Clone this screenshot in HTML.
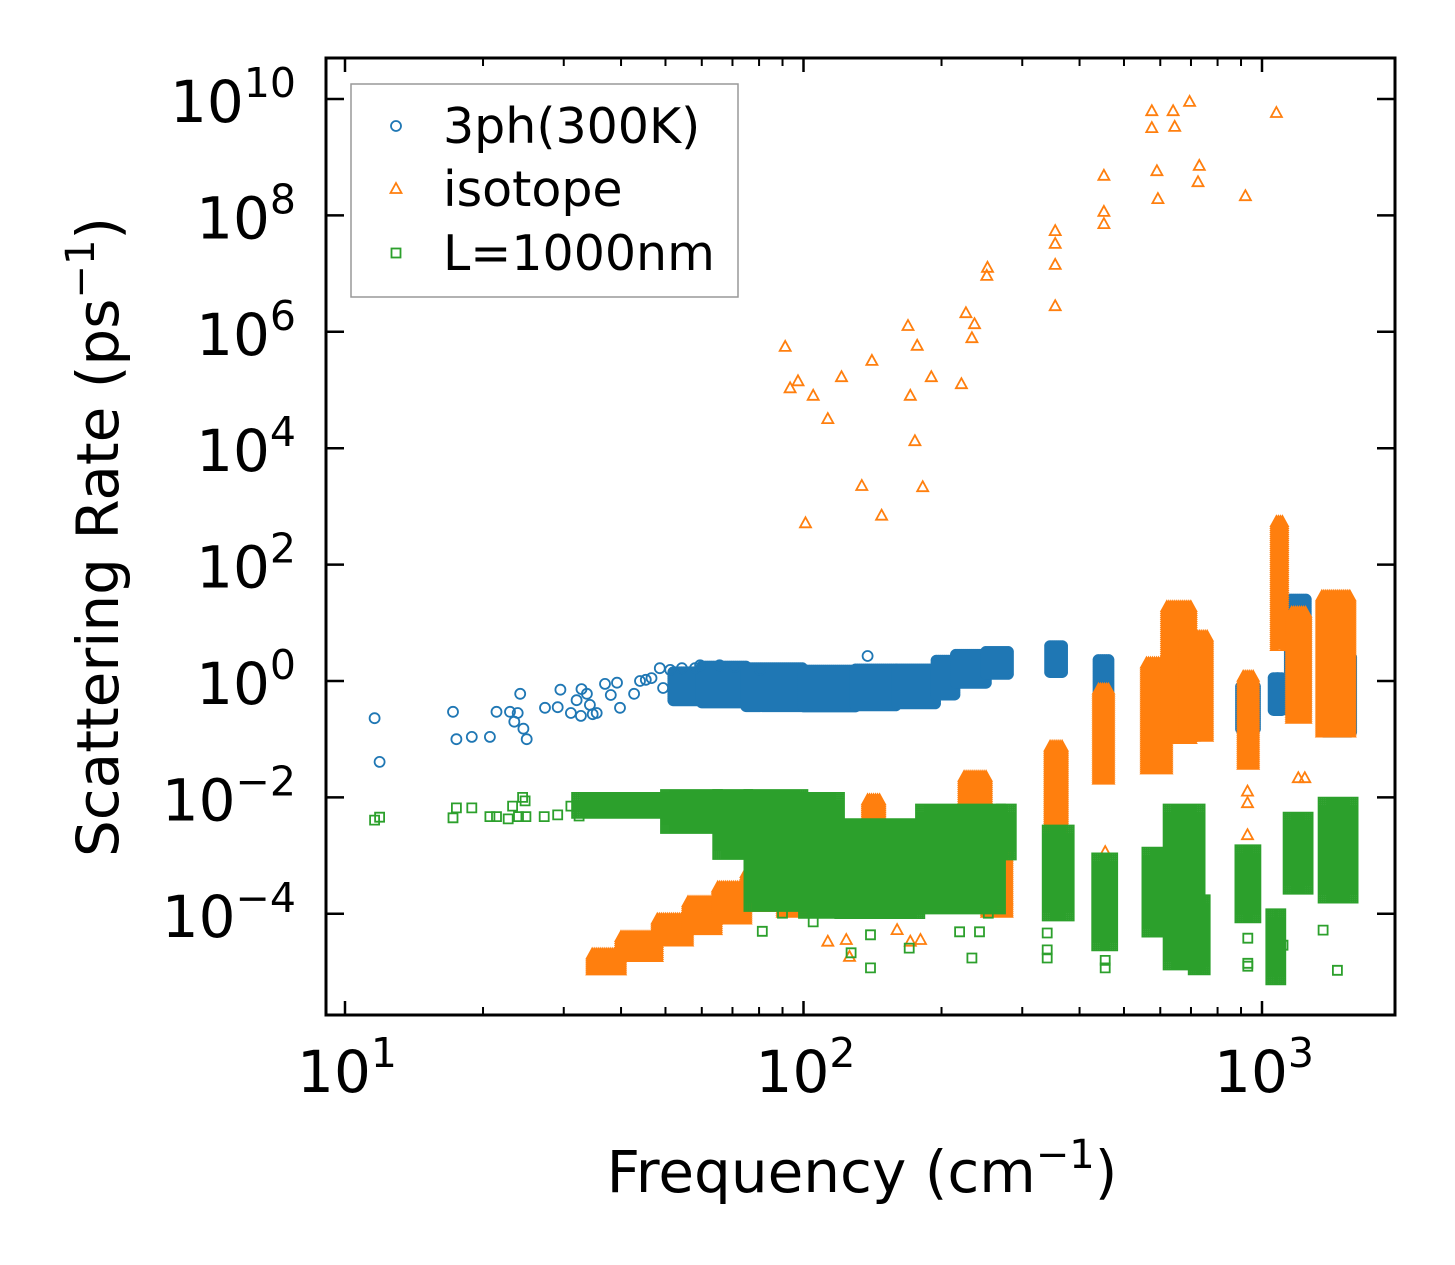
<!DOCTYPE html>
<html><head><meta charset="utf-8"><style>
html,body{margin:0;padding:0;background:#fff}
svg{display:block;font-family:"DejaVu Sans","Liberation Sans",sans-serif}
</style></head><body>
<svg id="chart" width="1455" height="1265" viewBox="0 0 1455 1265" xmlns="http://www.w3.org/2000/svg">
<rect width="1455" height="1265" fill="#fff"/>
<g id="marks"></g>
<g id="axes"></g>
<text x="862" y="1192" font-size="58" text-anchor="middle">Frequency (cm<tspan dy="-24" font-size="40">−1</tspan><tspan dy="24">)</tspan></text>
<text transform="translate(118,537) rotate(-90)" font-size="58" text-anchor="middle">Scattering Rate (ps<tspan dy="-24" font-size="40">−1</tspan><tspan dy="24">)</tspan></text>
<g>
<rect x="351" y="84" width="387" height="213" fill="#fff" stroke="#999" stroke-width="1.5"/>
<g><circle cx="396" cy="126" r="5" fill="none" stroke="#1f77b4" stroke-width="1.8"/><text x="443" y="143" font-size="49">3ph(300K)</text></g>
<g><path d="M396 183 L401.5 193 L390.5 193 Z" fill="none" stroke="#ff7f0e" stroke-width="1.8"/><text x="443" y="206" font-size="49">isotope</text></g>
<g><rect x="391.5" y="248.5" width="9" height="9" fill="none" stroke="#2ca02c" stroke-width="1.8"/><text x="443" y="270" font-size="49">L=1000nm</text></g>
</g>
</svg>
<script>
// axis tick values
const xTickExps = [1, 2, 3];
const yTickExps = [10, 8, 6, 4, 2, 0, -2, -4];
// 3ph (300K) scattered points: frequency, log10(rate)
const blueF = [11.6,11.9,17.2,17.5,18.9,20.7,21.4,22.9,23.4,23.8,24.1,24.5,24.9,27.3,29.1,29.5,31.1,32.0,32.7,32.8,33.7,34.2,34.7,35.4,36.9,38.0,39.2,39.8,42.7,44.0,45.3,46.6,48.6,49.4,51.2,54.3,58.0,59.5,65.6,70.8,80.4,138];
const blueR = [-0.64,-1.39,-0.53,-1.0,-0.96,-0.96,-0.53,-0.53,-0.70,-0.55,-0.22,-0.82,-1.0,-0.46,-0.45,-0.15,-0.55,-0.33,-0.60,-0.14,-0.22,-0.41,-0.57,-0.55,-0.05,-0.24,-0.03,-0.46,-0.22,0,0.02,0.05,0.22,-0.12,0.19,0.22,0.22,0.27,0.27,0.24,0.19,0.43];
// 3ph dense clusters: [f0, f1, logLo, logHi]
const blueClusters = [[52,60,-0.35,0.15],[60,75,-0.4,0.25],[75,100,-0.45,0.22],[100,130,-0.45,0.18],[130,160,-0.45,0.2],[160,195,-0.4,0.2],[195,215,-0.25,0.35],[215,250,-0.05,0.45],[250,280,0.1,0.5],[345,370,0.15,0.6],[440,465,-0.2,0.36],[560,740,-0.95,-0.15],[900,970,-0.85,-0.1],[1060,1110,-0.5,0.05],[1150,1250,-0.55,1.4],[1360,1580,-0.9,0.4]];
// isotope scattered points
const orangeF = [91.2,93.5,97.3,101,105,113,121,134,141,148,169,171,177,175,182,190,221,226,233,236,251,252,354,354,354,354,452,452,452,575,575,590,593,640,645,695,725,730,920,1075,113,124,126,160,171,180,277,277,455,656,930,930,930,1200,1240];
const orangeR = [5.74,5.03,5.15,2.71,4.9,4.5,5.22,3.35,5.5,2.84,6.1,4.9,5.76,4.12,3.33,5.22,5.1,6.32,5.89,6.13,6.96,7.1,6.44,7.73,7.51,7.15,7.85,8.06,8.68,9.79,9.5,8.76,8.28,9.79,9.52,9.95,8.57,8.85,8.33,9.76,-4.48,-4.45,-4.74,-4.28,-4.48,-4.45,-3.97,-3.76,-2.94,-2.4,-1.9,-2.1,-2.65,-1.67,-1.67];
// isotope dense clusters
const orangeClusters = [[34.6,40,-4.98,-4.7],[40,48,-4.75,-4.4],[48,56,-4.5,-4.1],[56,65,-4.3,-3.8],[65,75,-4.1,-3.55],[75,90,-3.9,-3.3],[90,140,-4.0,-3.4],[138,148,-2.5,-2.05],[224,251,-3.4,-1.65],[251,280,-4.0,-2.85],[345,370,-2.56,-1.13],[440,465,-1.7,-0.15],[560,620,-1.53,0.3],[620,700,-1.0,1.27],[680,760,-0.96,0.76],[910,960,-1.47,0.07],[1075,1110,0.57,2.73],[1160,1250,-0.67,1.17],[1350,1560,-0.9,1.45]];
// L=1000nm scattered points
const greenF = [11.6,11.9,17.2,17.5,18.9,20.7,21.4,22.7,23.2,23.9,24.4,24.7,24.8,27.2,29.1,31.1,32.4,34.9,81.3,90.0,105,140,127,140,170,219,233,242,253,279,340,340,340,455,455,931,931,931,1111,1359,1460];
const greenR = [-2.39,-2.34,-2.35,-2.18,-2.18,-2.33,-2.33,-2.37,-2.15,-2.33,-2.0,-2.06,-2.33,-2.33,-2.3,-2.15,-2.32,-2.06,-4.3,-3.99,-4.14,-4.93,-4.67,-4.36,-4.59,-4.31,-4.76,-4.31,-3.99,-2.94,-4.33,-4.62,-4.76,-4.8,-4.93,-4.42,-4.85,-4.9,-4.54,-4.28,-4.97];
// L=1000nm dense clusters
const greenClusters = [[32,50,-2.3,-2.0],[50,65,-2.55,-1.95],[65,76,-3.0,-1.95],[76,100,-3.9,-1.95],[100,120,-4.0,-2.0],[120,180,-4.0,-2.45],[180,270,-3.95,-2.2],[270,285,-3.0,-2.2],[340,381,-4.05,-2.56],[436,473,-4.57,-3.04],[561,621,-4.33,-2.94],[624,740,-4.9,-2.2],[708,759,-4.97,-3.76],[895,975,-4.1,-2.9],[1045,1105,-5.15,-4.0],[1140,1273,-3.6,-2.34],[1359,1580,-3.76,-2.08]];

const NS = 'http://www.w3.org/2000/svg';
const L = 326, R = 1395, T = 58, B = 1015;
function X(f){ return 345 + (Math.log10(f) - 1) * 458.5; }
function Y(e){ return 681 - e * 58.2; }
const shapes = {
  c: (x,y)=>`M${(x-5).toFixed(1)} ${y.toFixed(1)}a5 5 0 1 0 10 0a5 5 0 1 0 -10 0`,
  t: (x,y)=>`M${x.toFixed(1)} ${(y-6).toFixed(1)}L${(x+5.5).toFixed(1)} ${(y+4).toFixed(1)}L${(x-5.5).toFixed(1)} ${(y+4).toFixed(1)}Z`,
  s: (x,y)=>`M${(x-4.5).toFixed(1)} ${(y-4.5).toFixed(1)}h9v9h-9Z`
};
const marks = document.getElementById('marks');
function drawSeries(name, color, shape, F, Rr, clusters){
  const g = document.createElementNS(NS,'g');
  
  
  marks.appendChild(g);
  clusters.forEach((c, i) => {
    let d = '';
    const x0 = X(c[0]), x1 = X(c[1]), y0 = Y(c[3]), y1 = Y(c[2]);
    for (let x = x0; x <= x1 + 0.01; x += 2) {
      for (let y = y0; y <= y1 + 0.01; y += 2) d += shapes[shape](x, y);
    }
    const p = document.createElementNS(NS,'path');
    p.setAttribute('d', d);
    p.setAttribute('fill','none'); p.setAttribute('stroke', color); p.setAttribute('stroke-width','1.8');
    
    
    g.appendChild(p);
  });
  F.forEach((f, i) => {
    const p = document.createElementNS(NS,'path');
    p.setAttribute('d', shapes[shape](X(f), Y(Rr[i])));
    p.setAttribute('fill','none'); p.setAttribute('stroke', color); p.setAttribute('stroke-width','1.8');
    
    
    g.appendChild(p);
  });
}
drawSeries('series-3ph', '#1f77b4', 'c', blueF, blueR, blueClusters);
drawSeries('series-isotope', '#ff7f0e', 't', orangeF, orangeR, orangeClusters);
drawSeries('series-boundary', '#2ca02c', 's', greenF, greenR, greenClusters);

const axes = document.getElementById('axes');
function line(x1,y1,x2,y2,w,name){
  const l = document.createElementNS(NS,'line');
  l.setAttribute('x1',x1); l.setAttribute('y1',y1); l.setAttribute('x2',x2); l.setAttribute('y2',y2);
  l.setAttribute('stroke','#000'); l.setAttribute('stroke-width',w);
  
  
  axes.appendChild(l);
}
function label(x,y,exp,anchor,name){
  const t = document.createElementNS(NS,'text');
  t.setAttribute('x',x); t.setAttribute('y',y); t.setAttribute('font-size','58');
  t.setAttribute('text-anchor',anchor);
  
  
  t.innerHTML = '10<tspan dy="-25" font-size="41">' + String(exp).replace('-','−') + '</tspan>';
  axes.appendChild(t);
}
xTickExps.forEach(e => {
  const x = X(Math.pow(10,e));
  line(x,B,x,B-14,2.5,'x-major-tick'); line(x,T,x,T+14,2.5,'x-major-tick-top');
  label(x+2,1092,e,'middle','x-tick-label');
});
for (let d = 0; d <= 3; d++) for (let m = 2; m <= 9; m++) {
  const f = m * Math.pow(10,d);
  const x = X(f);
  if (x < L || x > R) continue;
  line(x,B,x,B-8,2,'x-minor-tick'); line(x,T,x,T+8,2,'x-minor-tick-top');
}
yTickExps.forEach(e => {
  const y = Y(e);
  line(L,y,L+18,y,2.5,'y-major-tick'); line(R,y,R-18,y,2.5,'y-major-tick-right');
  label(296,y+23,e,'end','y-tick-label');
});
const frame = document.createElementNS(NS,'rect');
frame.setAttribute('x',L); frame.setAttribute('y',T); frame.setAttribute('width',R-L); frame.setAttribute('height',B-T);
frame.setAttribute('fill','none'); frame.setAttribute('stroke','#000'); frame.setAttribute('stroke-width','3');


axes.appendChild(frame);
</script>
</body></html>
